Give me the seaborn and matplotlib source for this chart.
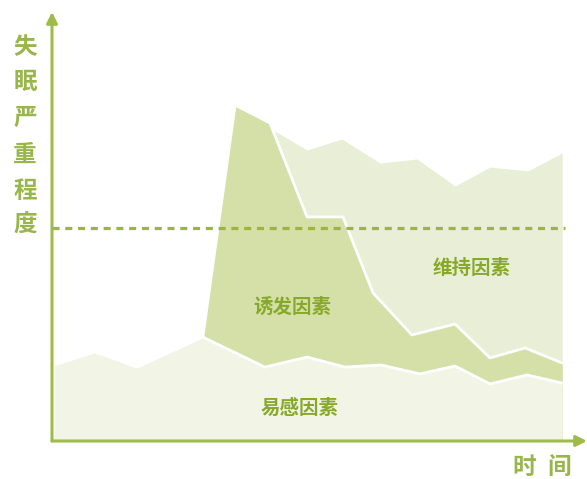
import matplotlib
matplotlib.use("Agg")
import matplotlib.pyplot as plt
import seaborn as sns
import pandas as pd
import numpy as np

# ---------------- data ----------------
# 易感因素 (predisposing) – top boundary of the bottom layer
t_yigan = [0, 1.13, 2.29, 4.10, 5.81, 6.97, 8.02, 9.01, 10.08, 11.05, 12.01, 13.03, 14.0]
v_yigan = [35.7, 41.8, 34.7, 48.8, 34.7, 39.4, 34.7, 35.7, 31.5, 35.2, 26.8, 31.0, 27.2]

# 诱发因素 (precipitating) – top boundary of middle layer
t_youfa = [4.10, 4.99, 5.95, 6.97, 7.96, 8.79, 9.86, 11.05, 12.01, 12.98, 14.0]
v_youfa = [48.8, 157.7, 149.3, 105.2, 105.2, 69.5, 49.8, 54.9, 39.0, 43.7, 36.6]

# 维持因素 (perpetuating) – top boundary of the back layer
t_weichi = [5.95, 6.97, 7.93, 8.98, 10.0, 11.05, 12.01, 13.06, 14.0]
v_weichi = [146.9, 136.6, 141.8, 130.5, 132.4, 119.7, 128.6, 126.8, 135.2]

threshold = 100

labels = ["维持因素", "诱发因素", "易感因素"]
ylabel_chars = ["失", "眠", "严", "重", "程", "度"]
xlabel_chars = ["时", "间"]

# ---------------- style ----------------
sns.set_theme(style="white")
plt.rcParams["font.family"] = ["Noto Sans CJK SC", "DejaVu Sans"]

W, H = 587, 479
fig = plt.figure(figsize=(W / 100, H / 100), dpi=100)
ax_left, ax_right, ax_bottom, ax_top = 52, 587, 441, 12
ax = fig.add_axes([ax_left / W, (H - ax_bottom) / H,
                   (ax_right - ax_left) / W, (ax_bottom - ax_top) / H])

px_per_t = 36.3
px_per_v = 2.13
ax.set_xlim((ax_left - 54) / px_per_t, (ax_right - 54) / px_per_t)
ax.set_ylim(0, (ax_bottom - ax_top) / px_per_v)

c_weichi = "#e9eed7"
c_youfa = "#d5dfa8"
c_yigan = "#f2f5e6"
c_axis = "#9fbb48"
c_text = "#88a82b"

df_w = pd.DataFrame({"t": t_weichi, "v": v_weichi})
df_f = pd.DataFrame({"t": t_youfa, "v": v_youfa})
df_y = pd.DataFrame({"t": t_yigan, "v": v_yigan})

ax.fill_between(df_w["t"], 0, df_w["v"], color=c_weichi, lw=0, zorder=1)
ax.fill_between(df_f["t"], 0, df_f["v"], color=c_youfa, lw=0, zorder=2)
sns.lineplot(data=df_f, x="t", y="v", ax=ax, color="white", lw=2.0, zorder=3)
ax.fill_between(df_y["t"], 0, df_y["v"], color=c_yigan, lw=0, zorder=4)
sns.lineplot(data=df_y, x="t", y="v", ax=ax, color="white", lw=2.0, zorder=5)

# threshold dashed line
x0, x1 = ax.get_xlim()
ax.plot([x0, (565 - 54) / px_per_t], [threshold, threshold], color="#9ab73c",
        lw=2.3, dashes=(2.2, 1.8), zorder=6)

ax.set_xlabel("")
ax.set_ylabel("")
ax.set_xticks([])
ax.set_yticks([])
for s in ax.spines.values():
    s.set_visible(False)

# axis arrows
ax.annotate("", xy=(0, 1), xytext=(0, 0), xycoords="axes fraction",
            arrowprops=dict(arrowstyle="-|>", color=c_axis, lw=2.2,
                            mutation_scale=16, shrinkA=0, shrinkB=0),
            annotation_clip=False, zorder=10)
ax.annotate("", xy=(1, 0), xytext=(0, 0), xycoords="axes fraction",
            arrowprops=dict(arrowstyle="-|>", color=c_axis, lw=2.2,
                            mutation_scale=16, shrinkA=0, shrinkB=0),
            annotation_clip=False, zorder=10)

def ftext(px, py, s, **kw):
    fig.text(px / W, 1 - py / H, s, ha="center", va="center", **kw)

# layer labels
ftext(472, 268, labels[0], fontsize=14, fontweight="bold", color=c_text)
ftext(292, 307, labels[1], fontsize=14, fontweight="bold", color=c_text)
ftext(300, 408, labels[2], fontsize=14, fontweight="bold", color=c_text)

# y-axis label (vertical)
ys = [47, 82, 118, 155, 191, 224]
for ch, yy in zip(ylabel_chars, ys):
    ftext(25, yy, ch, fontsize=17, fontweight="bold", color="#98b64a")

# x-axis label
for ch, xx in zip(xlabel_chars, [524, 559]):
    ftext(xx, 467, ch, fontsize=17, fontweight="bold", color="#98b64a")

fig.savefig("out.png", dpi=100)
